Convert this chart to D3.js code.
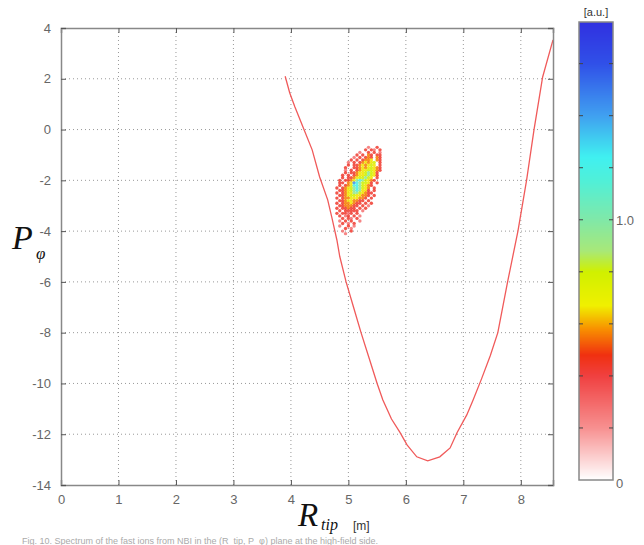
<!DOCTYPE html>
<html><head><meta charset="utf-8">
<script src="https://cdn.jsdelivr.net/npm/d3@7"></script>
<style>body{margin:0;background:#fff}svg{display:block}</style>
</head><body><svg id="chart" width="644" height="545"></svg>
<script>
// Axis ticks
const xTicks = [0, 1, 2, 3, 4, 5, 6, 7, 8];
const yTicks = [4, 2, 0, -2, -4, -6, -8, -10, -12, -14];
const xDomain = [0, 8.56];
const yDomain = [-14, 4];

// Boundary curve P_phi(R_tip)
const curveR = [3.90, 3.98, 4.07, 4.21, 4.37, 4.50, 4.64, 4.71, 4.80, 4.85, 4.96, 5.09, 5.22, 5.36, 5.50, 5.60, 5.75, 5.90, 6.02, 6.19, 6.38, 6.59, 6.77, 6.89, 7.06, 7.17, 7.32, 7.47, 7.60, 7.77, 7.95, 8.10, 8.23, 8.38, 8.56];
const curveP = [2.10, 1.44, 0.89, 0.10, -0.80, -1.87, -2.77, -3.44, -4.35, -5.00, -6.00, -7.00, -8.00, -9.00, -10.00, -10.65, -11.40, -11.94, -12.42, -12.89, -13.05, -12.89, -12.54, -11.94, -11.24, -10.65, -9.80, -8.90, -8.00, -6.00, -4.00, -2.00, 0.00, 2.07, 3.53];

// 2D histogram of particle density: bin origin/size and rows of level codes
const binR0 = 4.80, binDR = 0.05;
const binP0 = -0.7, binDP = 0.1;
const densityRows = [
  "...........1..2..",
  "..........2.21.2.",
  "........1..2.2.1.",
  ".......2.2.32.22.",
  "......1.2.232.32.",
  ".....2.2.2334.32.",
  "....1.2.234345.2.",
  "....2.22343454.2.",
  "...2..2234345432.",
  "...1.2.234455432.",
  "...2.2234456542..",
  "..2.2.234456542..",
  "..2.223455654.2..",
  ".2.22346765432...",
  ".22.348765542.2..",
  ".2.2347765432....",
  "2.2345676543.2...",
  ".22345676442.2...",
  "2.23446654322....",
  ".22345544332.2...",
  "2.233444332.2....",
  ".223443322.2.....",
  "2.2334322.2.2....",
  ".2233322.2.1.....",
  "2.22322.2.2......",
  ".2.22222.1.......",
  "2.2212.2.........",
  ".2.12.2.1........",
  "..2.21.2.........",
  ".1.2.2..1........",
  "..2.1.2..........",
  ".1..2.1..........",
  "...2.1...........",
  "..1..2...........",
  "...1............."
];
const levelValues = [0, 0.28, 0.43, 0.56, 0.66, 0.8, 0.95, 1.2, 1.45, 1.6];

// Colour bar
const cbDomain = [0, 1.76];
const cbTicks = [0, 0.2, 0.4, 0.6, 0.8, 1.0, 1.2, 1.4, 1.6];
const cbLabels = [{v: 0, t: "0"}, {v: 1.0, t: "1.0"}];
const cmapStops = [0, 0.2, 0.4, 0.48, 0.58, 0.67, 0.8, 0.88, 1.0, 1.15, 1.24, 1.4, 1.6, 1.76];
const cmapColors = ["#ffffff", "#f79090", "#f04040", "#f03010", "#f89000", "#f0f000", "#d0f000", "#a8e878", "#80e8a8", "#50f0d8", "#40f0f0", "#40a0f0", "#3050e8", "#3030e0"];

const svg = d3.select("#chart");
const M = {left: 61, right: 553, top: 28, bottom: 485};
const x = d3.scaleLinear().domain(xDomain).range([M.left, M.right]);
const y = d3.scaleLinear().domain(yDomain).range([M.bottom, M.top]);
const color = d3.scaleLinear().domain(cmapStops).range(cmapColors).clamp(true);

const font = "'Liberation Sans', Arial, sans-serif";
const gray = "#666";

// grid
const grid = svg.append("g");
grid.selectAll("line.vx").data(xTicks.filter(d => d > 0)).join("line")
  .attr("x1", d => x(d)).attr("x2", d => x(d)).attr("y1", M.top).attr("y2", M.bottom)
  .attr("stroke", "#999").attr("stroke-dasharray", "1,3");
grid.selectAll("line.hy").data(yTicks.filter(d => d > -14 && d < 4)).join("line")
  .attr("x1", M.left).attr("x2", M.right).attr("y1", d => y(d)).attr("y2", d => y(d))
  .attr("stroke", "#999").attr("stroke-dasharray", "1,3");

// density cells
const cells = [];
densityRows.forEach((row, j) => {
  for (let i = 0; i < row.length; i++) {
    const c = row[i];
    if (c >= "1" && c <= "9") {
      cells.push({r: binR0 + i * binDR, p: binP0 - j * binDP, v: levelValues[+c]});
    }
  }
});
svg.append("g").selectAll("circle").data(cells).join("circle")
  .attr("cx", d => x(d.r)).attr("cy", d => y(d.p)).attr("r", 1.7)
  .attr("fill", d => color(d.v)).attr("opacity", 0.85);

// curve
const pts = curveR.map((r, i) => [r, curveP[i]]);
svg.append("path").datum(pts)
  .attr("d", d3.line().x(d => x(d[0])).y(d => y(d[1])))
  .attr("fill", "none").attr("stroke", "#f05a5a").attr("stroke-width", 1.3);

// axes (box style with inward ticks)
const tickLen = 5;
const axB = svg.append("g").attr("transform", `translate(0,${M.bottom})`)
  .call(d3.axisBottom(x).tickValues(xTicks).tickSize(-tickLen).tickPadding(10).tickFormat(d3.format("d")));
const axT = svg.append("g").attr("transform", `translate(0,${M.top})`)
  .call(d3.axisTop(x).tickValues(xTicks).tickSize(-tickLen).tickFormat(""));
const axL = svg.append("g").attr("transform", `translate(${M.left},0)`)
  .call(d3.axisLeft(y).tickValues(yTicks).tickSize(-tickLen).tickPadding(10).tickFormat(d3.format("d")));
const axR = svg.append("g").attr("transform", `translate(${M.right},0)`)
  .call(d3.axisRight(y).tickValues(yTicks).tickSize(-tickLen).tickFormat(""));
[axB, axT, axL, axR].forEach(a => {
  a.select(".domain").attr("stroke", "#888").attr("stroke-width", 1.5);
  a.selectAll(".tick line").attr("stroke", "#555");
  a.selectAll("text").attr("fill", gray).style("font-family", font).style("font-size", "13px");
});
axL.selectAll("text").text(d => d < 0 ? "-" + Math.abs(d) : d);

// axis titles
const serif = "'Liberation Serif', 'Times New Roman', serif";
svg.append("text").attr("x", 12).attr("y", 249).attr("fill", "#111")
  .style("font-family", serif).style("font-style", "italic").style("font-size", "34px").text("P");
svg.append("text").attr("x", 36).attr("y", 259).attr("fill", "#111")
  .style("font-family", serif).style("font-style", "italic").style("font-size", "17px").text("φ");
svg.append("text").attr("x", 298).attr("y", 526).attr("fill", "#111")
  .style("font-family", serif).style("font-style", "italic").style("font-size", "33px").text("R");
svg.append("text").attr("x", 321).attr("y", 530).attr("fill", "#111")
  .style("font-family", serif).style("font-style", "italic").style("font-size", "16px").text("tip");
svg.append("text").attr("x", 353).attr("y", 530).attr("fill", "#333")
  .style("font-family", font).style("font-size", "12px").text("[m]");

// colour bar
const cb = {x0: 579, x1: 613, top: 22, bottom: 480};
const cy = d3.scaleLinear().domain(cbDomain).range([cb.bottom, cb.top]);
const strips = d3.range(cb.top, cb.bottom, 1);
svg.append("g").selectAll("rect").data(strips).join("rect")
  .attr("x", cb.x0).attr("y", d => d).attr("width", cb.x1 - cb.x0).attr("height", 1.2)
  .attr("fill", d => color(cy.invert(d + 0.5)));
svg.append("rect").attr("x", cb.x0).attr("y", cb.top).attr("width", cb.x1 - cb.x0)
  .attr("height", cb.bottom - cb.top).attr("fill", "none").attr("stroke", "#888").attr("stroke-width", 1.5);
svg.append("g").selectAll("line").data(cbTicks.filter(d => d > 0)).join("line")
  .attr("x1", cb.x0).attr("x2", cb.x0 + 4).attr("y1", d => cy(d)).attr("y2", d => cy(d)).attr("stroke", "#444");
svg.append("g").selectAll("line").data(cbTicks.filter(d => d > 0)).join("line")
  .attr("x1", cb.x1 - 4).attr("x2", cb.x1).attr("y1", d => cy(d)).attr("y2", d => cy(d)).attr("stroke", "#444");
svg.append("g").selectAll("text").data(cbLabels).join("text")
  .attr("x", cb.x1 + 3).attr("y", d => cy(d.v) + 5 + (d.v === 0 ? 3 : 0))
  .attr("fill", gray).style("font-family", font).style("font-size", "13px").text(d => d.t);
svg.append("text").attr("x", (cb.x0 + cb.x1) / 2).attr("y", 16).attr("text-anchor", "middle")
  .attr("fill", "#333").style("font-family", font).style("font-size", "11px").text("[a.u.]");

// figure caption along the lower edge
svg.append("text").attr("x", 22).attr("y", 544).attr("fill", "#aaa")
  .style("font-family", font).style("font-size", "9px")
  .text("Fig. 10. Spectrum of the fast ions from NBI in the (R_tip, P_φ) plane at the high-field side.");
</script></body></html>
